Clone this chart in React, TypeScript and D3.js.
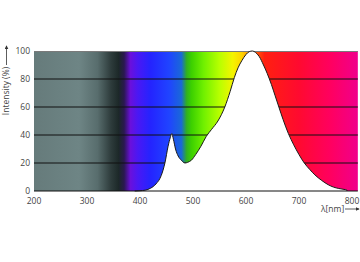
import React from "react";
import * as d3 from "d3";

const wavelengths = [390, 400, 410, 420, 430, 440, 447, 453, 457, 460, 463, 467, 472, 478, 485, 490, 497, 505, 515, 525, 535, 547, 560, 570, 578, 585, 592, 600, 606, 612, 618, 625, 633, 640, 648, 655, 662, 670, 680, 690, 700, 710, 720, 730, 743, 755, 765, 775, 787, 790, 790.5];
const intensities = [0, 0.2, 0.6, 2, 5, 11, 20, 32, 38, 41, 37, 30, 25, 22, 20, 20.5, 22, 26, 32, 39, 44, 50, 60, 71, 81, 88, 93, 97.5, 99.5, 100, 99, 96, 90, 84, 76, 68, 60, 51, 41, 33, 26, 20, 15.5, 11.5, 7.5, 4.5, 2.8, 1.8, 1.0, 0.8, 0];
const xTicks = [200, 300, 400, 500, 600, 700, 800];
const yTicks = [0, 20, 40, 60, 80, 100];
const gridValues = [20, 40, 60, 80];
const bgStopsNm = [200, 285, 320, 345, 360, 370, 382, 396, 420, 455, 478, 488, 497, 520, 550, 575, 592, 610, 635, 700, 760, 811];
const bgStopsColor = ["#667b7b", "#6e8585", "#586d6d", "#2e3c3c", "#1c2828", "#2a1850", "#6a10dc", "#4a18f4", "#2424ff", "#2044ff", "#1a68d8", "#30b020", "#3cd000", "#70f000", "#b8ff00", "#f4f400", "#ffd400", "#ff8000", "#ff2010", "#ff0a30", "#ff0060", "#f0008c"];

export default function App() {
  const W = 360, H = 262;
  const x = d3.scaleLinear().domain([200, 800]).range([34, 352]);
  const y = d3.scaleLinear().domain([0, 100]).range([191, 51]);
  const xRight = x(811);
  const pts: [number, number][] = wavelengths.map((w, i) => [w, intensities[i]]);
  const area = d3.area<[number, number]>().x(d => x(d[0])).y0(y(0)).y1(d => y(d[1])).curve(d3.curveMonotoneX);
  const line = d3.line<[number, number]>().x(d => x(d[0])).y(d => y(d[1])).curve(d3.curveMonotoneX);
  const font = "'Open Sans', 'Noto Sans', sans-serif";
  const x0 = x(200);
  return (
    <svg width={W} height={H} style={{ position: "absolute", left: 0, top: 0 }}>
      <defs>
        <linearGradient id="spec" gradientUnits="userSpaceOnUse" x1={x0} x2={xRight} y1={0} y2={0}>
          {bgStopsNm.map((n, i) => (
            <stop key={i} offset={(x(n) - x0) / (xRight - x0)} stopColor={bgStopsColor[i]} />
          ))}
        </linearGradient>
        <marker id="arr" viewBox="0 0 6 6" refX="5" refY="3" markerWidth="5" markerHeight="5" orient="auto">
          <path d="M0,0 L6,3 L0,6 z" fill="#333" />
        </marker>
      </defs>
      <rect x={x0} y={y(100)} width={xRight - x0} height={y(0) - y(100)} fill="url(#spec)" />
      <line x1={x0} x2={xRight} y1={y(100) + 0.5} y2={y(100) + 0.5} stroke="#7a7a7a" strokeWidth={1} />
      {gridValues.map(g => (
        <line key={g} x1={x0} x2={xRight} y1={y(g)} y2={y(g)} stroke="#111" strokeWidth={1} />
      ))}
      <path d={area(pts) || ""} fill="#fff" />
      <path d={line(pts) || ""} fill="none" stroke="#1a1a1a" strokeWidth={1} />
      <line x1={x0} x2={xRight} y1={y(0)} y2={y(0)} stroke="#111" strokeWidth={1.2} />
      {yTicks.map(t => (
        <text key={t} x={30} y={y(t)} dy="0.35em" textAnchor="end" fontSize={8.5} fill="#444" fontFamily={font}>{t}</text>
      ))}
      {xTicks.map(t => (
        <text key={t} x={x(t)} y={204} textAnchor="middle" fontSize={8.5} fill="#444" fontFamily={font}>{t}</text>
      ))}
      <text transform="translate(9,91) rotate(-90)" textAnchor="middle" fontSize={8.5} fill="#444" fontFamily={font}>Intensity (%)</text>
      <line x1={6.5} x2={6.5} y1={65} y2={46} stroke="#333" strokeWidth={0.8} markerEnd="url(#arr)" />
      <text x={321} y={212} fontSize={8.5} fill="#444" fontFamily={font}>λ[nm]</text>
      <line x1={345} x2={359} y1={209} y2={209} stroke="#333" strokeWidth={0.8} markerEnd="url(#arr)" />
    </svg>
  );
}
